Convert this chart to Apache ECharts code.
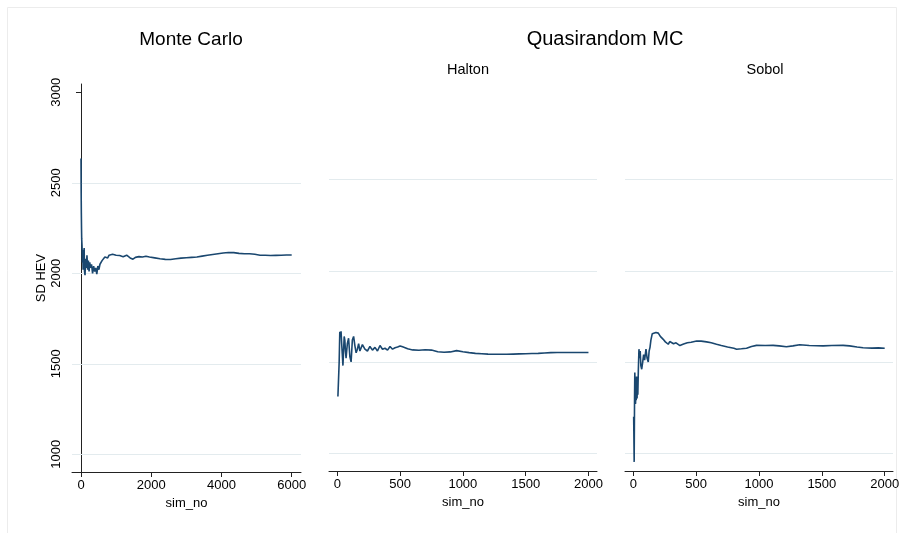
<!DOCTYPE html>
<html>
<head>
<meta charset="utf-8">
<script src="https://cdn.jsdelivr.net/npm/echarts@6/dist/echarts.min.js"></script>
<style>html,body{margin:0;padding:0;background:#fff}#c{width:904px;height:533px}</style>
</head>
<body>
<div id="c"></div>
<script>
// ---- data ----
const mcSim = [1,5,10,15,20,30,40,50,60,70,80,90,100,115,130,150,170,190,210,230,250,270,300,330,360,390,420,450,480,510,540,570,600,640,680,720,760,800,850,900,950,1000,1100,1200,1300,1400,1480,1550,1650,1750,1850,1950,2100,2250,2400,2550,2700,2850,3000,3150,3300,3450,3600,3750,3900,4050,4200,4350,4500,4650,4800,4950,5100,5250,5400,5550,5700,5850,6000];
const mcSd  = [2635,2450,2330,2250,2190,2150,2060,2130,2020,2110,2040,2140,2010,1990,2080,2030,2100,2020,2070,2010,2060,2030,2050,2000,2040,2010,2030,1995,2040,2020,2050,2040,2070,2060,2090,2100,2085,2100,2090,2105,2095,2100,2098,2092,2100,2085,2078,2088,2092,2090,2094,2090,2085,2080,2077,2076,2080,2084,2086,2088,2090,2095,2100,2104,2108,2112,2115,2114,2110,2108,2108,2105,2100,2100,2098,2099,2100,2101,2101];

const haltonSim = [5,10,15,20,25,30,35,40,45,50,55,60,65,70,80,90,100,110,120,130,140,150,160,170,180,190,200,220,240,260,280,300,320,340,360,380,400,420,440,460,480,500,520,540,560,600,650,700,750,800,850,900,950,1000,1050,1100,1150,1200,1250,1300,1350,1400,1450,1500,1550,1600,1650,1700,1750,1800,1850,1900,1950,2000];
const haltonSd  = [1310,1300,1500,1665,1640,1668,1600,1540,1480,1560,1640,1620,1560,1520,1600,1630,1530,1500,1620,1640,1590,1550,1570,1600,1560,1555,1595,1570,1560,1585,1565,1580,1560,1590,1570,1575,1565,1585,1570,1578,1582,1588,1583,1578,1572,1566,1564,1567,1565,1556,1553,1555,1562,1556,1551,1547,1545,1543,1542,1542,1542,1543,1544,1545,1546,1547,1549,1551,1552,1552,1552,1552,1552,1552];

const sobolSim = [3,7,10,12,15,18,20,23,26,30,33,36,40,45,50,55,60,67,75,82,90,101,110,119,126,133,140,151,165,180,199,215,238,255,278,290,304,320,340,371,400,430,460,504,540,583,620,662,700,750,800,822,860,901,940,980,1050,1112,1160,1218,1270,1324,1400,1460,1510,1580,1669,1720,1780,1828,1900,1950,2000];
const sobolSd  = [1200,952,1300,1442,1350,1270,1400,1290,1420,1300,1390,1320,1450,1570,1520,1560,1480,1460,1500,1540,1510,1570,1520,1500,1560,1580,1620,1655,1650,1662,1658,1640,1624,1610,1597,1612,1612,1600,1605,1590,1598,1605,1608,1615,1614,1610,1605,1597,1590,1582,1575,1570,1572,1575,1585,1591,1590,1591,1588,1583,1588,1594,1590,1589,1588,1590,1591,1588,1582,1578,1576,1577,1575];

const yTicks = [1000,1500,2000,2500,3000];
const yGrid = [1000,1500,2000,2500];
const mcXTicks = [0,2000,4000,6000];
const qXTicks = [0,500,1000,1500,2000];

const titles = ['Monte Carlo','Quasirandom MC','Halton','Sobol'];
const yName = 'SD HEV';
const xName = 'sim_no';

// ---- chart ----
const FONT = "'Liberation Sans', Arial, sans-serif";
const LINE = '#1a476f';
const AXIS = '#222';
const GRIDC = '#e3ebee';
const plain = v => String(v);
const chart = echarts.init(document.getElementById('c'), null, {renderer:'canvas'});

function xAxisFor(idx, min, max, ticks) {
  return {
    type:'value', gridIndex: idx, min:min, max:max,
    name: xName, nameLocation:'middle', nameGap: 21,
    nameTextStyle:{fontFamily:FONT, fontSize:13, color:'#000'},
    axisLine:{show:true, onZero:false, lineStyle:{color:AXIS, width:1}},
    axisTick:{show:true, length:5, lineStyle:{color:AXIS}, customValues: ticks},
    axisLabel:{show:true, margin:7, fontFamily:FONT, fontSize:13, color:'#000', customValues: ticks, formatter: plain},
    splitLine:{show:false}
  };
}
function yAxisFor(idx, showAxis) {
  return {
    type:'value', gridIndex: idx, min:902, max:3046,
    name: showAxis ? yName : '', nameLocation:'middle', nameGap: 24,
    nameTextStyle:{fontFamily:FONT, fontSize:13, color:'#000'},
    axisLine:{show:showAxis, lineStyle:{color:AXIS, width:1}},
    axisTick:{show:showAxis, length:5, lineStyle:{color:AXIS}, customValues: yTicks},
    axisLabel:{show:showAxis, rotate:90, margin:9, fontFamily:FONT, fontSize:13, color:'#000', customValues: yTicks, formatter: plain},
    splitLine:{show:false}
  };
}
function seriesFor(idx, sim, sd) {
  return {
    type:'line', xAxisIndex: idx, yAxisIndex: idx,
    data: sim.map((s,i)=>[s, sd[i]]),
    showSymbol:false, symbol:'none', animation:false, z:3,
    lineStyle:{color:LINE, width:1.6},
    markLine:{
      silent:true, symbol:'none', z:1, animation:false,
      label:{show:false},
      lineStyle:{color:GRIDC, width:1, type:'solid'},
      data: yGrid.map(v=>({yAxis:v}))
    }
  };
}

chart.setOption({
  animation:false,
  backgroundColor:'#fff',
  graphic:[{type:'rect', shape:{x:7.5,y:7.5,width:889,height:540}, style:{fill:'none', stroke:'#ececec', lineWidth:1}, silent:true}],
  title:[
    {text:titles[0], left:186, top:25, textAlign:'center', textStyle:{fontFamily:FONT, fontSize:19, fontWeight:'normal', color:'#000'}},
    {text:titles[1], left:600, top:24, textAlign:'center', textStyle:{fontFamily:FONT, fontSize:20, fontWeight:'normal', color:'#000'}},
    {text:titles[2], left:463, top:57, textAlign:'center', textStyle:{fontFamily:FONT, fontSize:14.5, fontWeight:'normal', color:'#000'}},
    {text:titles[3], left:760, top:57, textAlign:'center', textStyle:{fontFamily:FONT, fontSize:14.5, fontWeight:'normal', color:'#000'}}
  ],
  grid:[
    {left:72, top:84, width:229, height:388},
    {left:329, top:80, width:268, height:391},
    {left:625, top:80, width:268, height:391}
  ],
  xAxis:[
    xAxisFor(0, -256, 6265, mcXTicks),
    xAxisFor(1, -66, 2068, qXTicks),
    xAxisFor(2, -66, 2066, qXTicks)
  ],
  yAxis:[ yAxisFor(0,true), yAxisFor(1,false), yAxisFor(2,false) ],
  series:[
    seriesFor(0, mcSim, mcSd),
    seriesFor(1, haltonSim, haltonSd),
    seriesFor(2, sobolSim, sobolSd)
  ]
});
</script>
</body>
</html>
